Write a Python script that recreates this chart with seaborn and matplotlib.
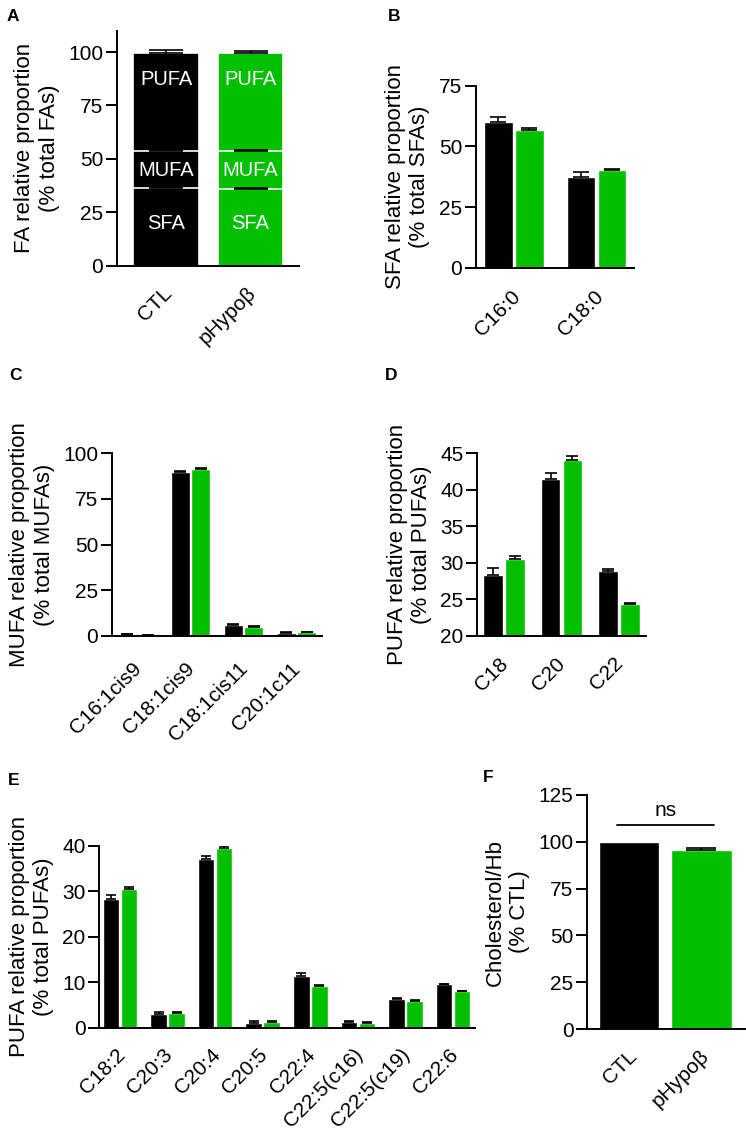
import numpy as np
import pandas as pd
import matplotlib
matplotlib.use('Agg')
import matplotlib.pyplot as plt
import matplotlib.transforms as mtransforms
import seaborn as sns

groups = ['CTL', 'pHypoβ']
colors = ['#000000', '#00C000']

# Panel A (stacked)
a_sfa = [36.4, 36.0]
a_mufa = [17.3, 17.8]
a_pufa = [45.8, 45.8]
a_sfa_sem = [0.3, 0.3]
a_mufa_sem = [0.3, 0.3]
a_pufa_sem = [1.5, 0.7]

# Panel B
b_cats = ['C16:0', 'C18:0']
b_ctl = [60.2, 37.5]
b_ctl_sem = [1.8, 1.8]
b_hyp = [56.9, 40.4]
b_hyp_sem = [0.5, 0.4]

# Panel C
c_cats = ['C16:1cis9', 'C18:1cis9', 'C18:1cis11', 'C20:1c11']
c_ctl = [0.8, 90.0, 6.0, 1.5]
c_ctl_sem = [0.2, 0.5, 0.4, 0.3]
c_hyp = [0.4, 91.3, 4.9, 1.9]
c_hyp_sem = [0.1, 0.8, 0.3, 0.3]

# Panel D
d_cats = ['C18', 'C20', 'C22']
d_ctl = [28.3, 41.5, 28.9]
d_ctl_sem = [1.0, 0.8, 0.3]
d_hyp = [30.5, 44.1, 24.3]
d_hyp_sem = [0.4, 0.5, 0.15]

# Panel E
e_cats = ['C18:2', 'C20:3', 'C20:4', 'C20:5', 'C22:4', 'C22:5(c16)', 'C22:5(c19)', 'C22:6']
e_ctl = [28.3, 3.1, 37.1, 1.1, 11.4, 1.3, 6.2, 9.5]
e_ctl_sem = [0.9, 0.4, 0.7, 0.3, 0.6, 0.1, 0.4, 0.2]
e_hyp = [30.5, 3.3, 39.6, 1.2, 9.2, 1.1, 5.9, 8.0]
e_hyp_sem = [0.4, 0.05, 0.3, 0.2, 0.15, 0.1, 0.15, 0.1]

# Panel F
f_vals = [100.0, 95.4]
f_sem = [0.0, 1.1]

sns.set_style('ticks')
plt.rcParams['font.family'] = ['Liberation Sans', 'DejaVu Sans']
plt.rcParams.update({
    'axes.linewidth': 1.4,
    'text.color': 'black',
    'axes.labelcolor': 'black',
    'axes.edgecolor': 'black',
    'xtick.color': 'black',
    'ytick.color': 'black',
})

TICK_FS = 15
LABEL_FS = 16

W, H = 746, 1129
fig = plt.figure(figsize=(W / 100, H / 100), dpi=100)
palette = dict(zip(groups, colors))


def px_axes(L, R, T, B):
    return fig.add_axes([L / W, 1 - B / H, (R - L) / W, (B - T) / H])


def long_df(cats, ctl, hyp):
    return pd.DataFrame({
        'cat': list(cats) * 2,
        'group': [groups[0]] * len(cats) + [groups[1]] * len(cats),
        'val': list(ctl) + list(hyp),
    })


def add_err(ax, patches, sems, capsize):
    for p, s in zip(patches, sems):
        if s <= 0:
            continue
        x = p.get_x() + p.get_width() / 2
        h = p.get_height()
        ax.errorbar([x], [h], yerr=[[0], [s]], fmt='none', ecolor='black',
                    elinewidth=1.2, capsize=capsize, capthick=1.2, zorder=3)


def style(ax, ylim, yticks, xlim, ylabel, pad_px, dx_px, labelpad=6):
    sns.despine(ax=ax)
    ax.set_ylim(*ylim)
    ax.set_yticks(yticks)
    ax.set_xlim(*xlim)
    ax.set_xlabel('')
    ax.set_ylabel(ylabel, linespacing=1.2, labelpad=labelpad, fontsize=LABEL_FS)
    ax.tick_params(axis='y', length=8, width=1.4, pad=2, labelsize=TICK_FS)
    ax.tick_params(axis='x', length=0, pad=pad_px * 0.72, labelsize=TICK_FS)
    offset = mtransforms.ScaledTranslation(dx_px / 100, 0, fig.dpi_scale_trans)
    for lab in ax.get_xticklabels():
        lab.set_rotation(45)
        lab.set_ha('right')
        lab.set_va('center')
        lab.set_rotation_mode('anchor')
        lab.set_transform(lab.get_transform() + offset)


def grouped(ax, cats, ctl, hyp, ctl_sem, hyp_sem, width, gap, capsize):
    df = long_df(cats, ctl, hyp)
    sns.barplot(data=df, x='cat', y='val', hue='group', order=cats,
                hue_order=groups, palette=palette, errorbar=None,
                width=width, gap=gap, legend=False, ax=ax, saturation=1)
    patches = sorted(ax.patches, key=lambda p: p.get_x())
    sems = []
    for i in range(len(cats)):
        sems += [ctl_sem[i], hyp_sem[i]]
    add_err(ax, patches, sems, capsize)


# ---------- Panel A ----------
axA = px_axes(117, 299, 30.6, 266)
cum_mufa = [s + m for s, m in zip(a_sfa, a_mufa)]
cum_pufa = [c + p for c, p in zip(cum_mufa, a_pufa)]
for tops, sems in [(cum_pufa, a_pufa_sem), (cum_mufa, a_mufa_sem), (a_sfa, a_sfa_sem)]:
    n0 = len(axA.patches)
    dfa = pd.DataFrame({'group': groups, 'val': tops})
    sns.barplot(data=dfa, x='group', y='val', hue='group', order=groups,
                hue_order=groups, palette=palette, errorbar=None, width=0.78,
                legend=False, ax=axA, saturation=1, edgecolor='white', linewidth=1.2)
    new = sorted(axA.patches[n0:], key=lambda p: p.get_x())
    add_err(axA, new, sems, 12)
for i in range(2):
    axA.text(i, 87, 'PUFA', color='white', ha='center', va='center', fontsize=14.5)
    axA.text(i, 44.5, 'MUFA', color='white', ha='center', va='center', fontsize=14.5)
    axA.text(i, 20, 'SFA', color='white', ha='center', va='center', fontsize=14.5)
style(axA, (0, 110), [0, 25, 50, 75, 100], (-0.58, 1.574),
      'FA relative proportion\n(% total FAs)', 24.5, 3)

# ---------- Panel B ----------
axB = px_axes(476, 634, 85.7, 267.7)
grouped(axB, b_cats, b_ctl, b_hyp, b_ctl_sem, b_hyp_sem, 0.75, 0.09, 6)
style(axB, (0, 75), [0, 25, 50, 75], (-0.46, 1.455),
      'SFA relative proportion\n(% total SFAs)', 26, 4)

# ---------- Panel C ----------
axC = px_axes(112, 322, 453.3, 635.7)
grouped(axC, c_cats, c_ctl, c_hyp, c_ctl_sem, c_hyp_sem, 0.774, 0.075, 4.5)
style(axC, (0, 100), [0, 25, 50, 75, 100], (-0.48, 3.48),
      'MUFA relative proportion\n(% total MUFAs)', 30, 1)

# ---------- Panel D ----------
axD = px_axes(477.3, 645.7, 453.3, 635.7)
grouped(axD, d_cats, d_ctl, d_hyp, d_ctl_sem, d_hyp_sem, 0.765, 0.11, 4)
style(axD, (20, 45), [20, 25, 30, 35, 40, 45], (-0.464, 2.464),
      'PUFA relative proportion\n(% total PUFAs)', 25, 1)

# ---------- Panel E ----------
axE = px_axes(99.3, 475, 845.7, 1027.7)
grouped(axE, e_cats, e_ctl, e_hyp, e_ctl_sem, e_hyp_sem, 0.757, 0.08, 3.3)
style(axE, (0, 40), [0, 10, 20, 30, 40], (-0.435, 7.46),
      'PUFA relative proportion\n(% total PUFAs)', 24, 2)

# ---------- Panel F ----------
axF = px_axes(587.3, 746, 794.7, 1029.3)
dff = pd.DataFrame({'group': groups, 'val': f_vals})
sns.barplot(data=dff, x='group', y='val', hue='group', order=groups,
            hue_order=groups, palette=palette, errorbar=None, width=0.83,
            legend=False, ax=axF, saturation=1)
add_err(axF, sorted(axF.patches, key=lambda p: p.get_x()), f_sem, 10.5)
axF.plot([-0.17, 1.17], [108.7, 108.7], color='black', lw=1.3)
axF.text(0.5, 111.3, 'ns', ha='center', va='bottom', fontsize=TICK_FS)
style(axF, (0, 125), [0, 25, 50, 75, 100, 125], (-0.575, 1.614),
      'Cholesterol/Hb\n(% CTL)', 24, 5)

# Panel letters
for lab, x, y in [('A', 7, 9), ('B', 388, 9), ('C', 9, 368), ('D', 385, 368),
                  ('E', 8, 773), ('F', 483, 770)]:
    fig.text(x / W, 1 - y / H, lab, fontsize=12.5, fontweight='bold',
             ha='left', va='top')

fig.savefig('out.png', dpi=100)
